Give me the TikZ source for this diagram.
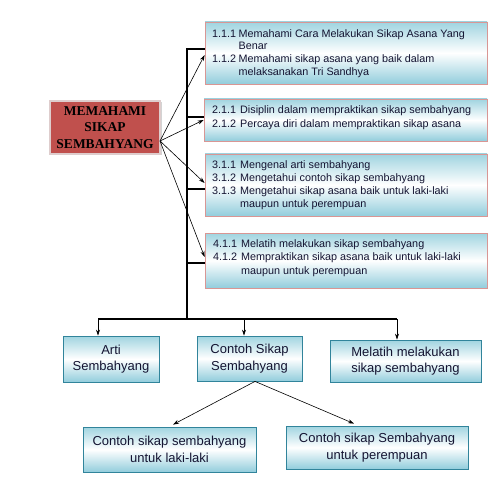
\documentclass[tikz,border=0pt]{standalone}
\usepackage{fontspec}
\setmainfont{Liberation Sans}
\newfontfamily\mainserif{Liberation Serif}
\usetikzlibrary{arrows.meta,shadows}
\definecolor{redfill}{RGB}{192,80,77}
\definecolor{pinkline}{RGB}{217,150,148}
\definecolor{tealline}{RGB}{49,132,155}
\definecolor{shtop}{RGB}{160,212,224}
\definecolor{shbot}{RGB}{146,205,220}
\definecolor{txt}{RGB}{20,20,50}
\tikzset{
  rbox/.style={draw=pinkline, line width=0.8pt, top color=shtop, bottom color=shbot, middle color=white, inner sep=0pt},
  bbox/.style={draw=tealline, line width=0.8pt, top color=shtop, bottom color=shbot, middle color=white, inner sep=0pt, align=center, text=txt, font=\fontsize{13}{16.5}\selectfont},
  rtext/.style={anchor=north west, inner sep=0pt, text=txt},
  mainbox/.style={fill=redfill, draw={rgb,255:red,222;green,205;blue,205}, line width=1.8pt, align=center, font=\mainserif\bfseries\fontsize{13.5}{16.5}\selectfont, drop shadow={shadow xshift=1.5pt, shadow yshift=-1.5pt, opacity=0.35}},
  thinarrow/.style={-{Stealth[length=6pt,width=4pt]}, line width=0.6pt},
  bracketline/.style={line width=1.6pt},
  busline/.style={line width=1.2pt},
}
\begin{document}
\begin{tikzpicture}[x=1pt,y=-1pt]
\useasboundingbox (0,0) rectangle (503,481);
% main box
\node[mainbox, minimum width=110pt, minimum height=53pt] (main) at (105,127.5) {MEMAHAMI\\SIKAP\\SEMBAHYANG};
\coordinate (src) at (160,141);
% right boxes
\node[rbox, minimum width=282pt, minimum height=62pt] (b1) at (346,53) {};
\node[rbox, minimum width=283pt, minimum height=42pt] (b2) at (345.5,120) {};
\node[rbox, minimum width=282pt, minimum height=62pt] (b3) at (346,185) {};
\node[rbox, minimum width=282pt, minimum height=55pt] (b4) at (346,260.5) {};
\node[rtext, font=\fontsize{10.8}{12.8}\selectfont] (t1) at (212,28) {\begin{tabular}{@{}p{26.5pt}@{}l@{}}
1.1.1 & Memahami Cara Melakukan Sikap Asana Yang\\
 & Benar\\
1.1.2 & Memahami sikap asana yang baik dalam\\
 & melaksanakan Tri Sandhya
\end{tabular}};
\node[rtext, font=\fontsize{10.8}{14}\selectfont] (t2) at (212,103.2) {\begin{tabular}{@{}p{28pt}@{}l@{}}
2.1.1 & Disiplin dalam mempraktikan sikap sembahyang\\
2.1.2 & Percaya diri dalam mempraktikan sikap asana
\end{tabular}};
\node[rtext, font=\fontsize{10.8}{13}\selectfont] (t3) at (212,158.9) {\begin{tabular}{@{}p{28pt}@{}l@{}}
3.1.1 & Mengenal arti sembahyang\\
3.1.2 & Mengetahui contoh sikap sembahyang\\
3.1.3 & Mengetahui sikap asana baik untuk laki-laki\\
 & maupun untuk perempuan
\end{tabular}};
\node[rtext, font=\fontsize{10.8}{13.5}\selectfont] (t4) at (213,237.5) {\begin{tabular}{@{}p{28pt}@{}l@{}}
4.1.1 & Melatih melakukan sikap sembahyang\\
4.1.2 & Mempraktikan sikap asana baik untuk laki-laki\\
 & maupun untuk perempuan
\end{tabular}};
% arrows from main
\draw[thinarrow] (src) -- ([yshift=-2pt]b1.west);
\draw[thinarrow] (src) -- (b2.west);
\draw[thinarrow] (src) -- ([yshift=2pt]b3.west);
\draw[thinarrow] (src) -- ([yshift=3.5pt]b4.west);
% bracket
\coordinate (bk) at (187,49);
\coordinate (bus) at (187,319);
\draw[bracketline] (b1.west |- bk) -- (bk) -- (bus);
\draw[bracketline] (187,117) -- (b2.west |- 0,117);
\draw[bracketline] (187,189) -- (b3.west |- 0,189);
\draw[bracketline] (187,263) -- (b4.west |- 0,263);
% bottom boxes
\node[bbox, minimum width=96pt, minimum height=46pt] (arti) at (111,359) {Arti\\Sembahyang};
\node[bbox, minimum width=105pt, minimum height=45pt] (contoh) at (249.5,358.5) {Contoh Sikap\\Sembahyang};
\node[bbox, minimum width=151pt, minimum height=42pt] (melatih) at (405.5,361) {Melatih melakukan\\sikap sembahyang};
\node[bbox, minimum width=173pt, minimum height=45pt] (laki) at (169.5,449.5) {Contoh sikap sembahyang\\untuk laki-laki};
\node[bbox, minimum width=182pt, minimum height=43pt] (pere) at (377,447.5) {Contoh sikap Sembahyang\\untuk perempuan};
% bus
\coordinate (busL) at (98,319);
\coordinate (busM) at (244,319);
\coordinate (busR) at (397,319);
\draw[busline] (busL) -- (busR);
\draw[thinarrow] (busL) -- (busL |- arti.north);
\draw[thinarrow] (busM) -- (busM |- contoh.north);
\draw[thinarrow] (busR) -- (busR |- melatih.north);
% contoh arrows
\draw[thinarrow] ([xshift=5.5pt]contoh.south) -- ([xshift=3.5pt,yshift=2pt]laki.north);
\draw[thinarrow] ([xshift=5.5pt]contoh.south) -- ([xshift=-23pt,yshift=2pt]pere.north);
\end{tikzpicture}
\end{document}
